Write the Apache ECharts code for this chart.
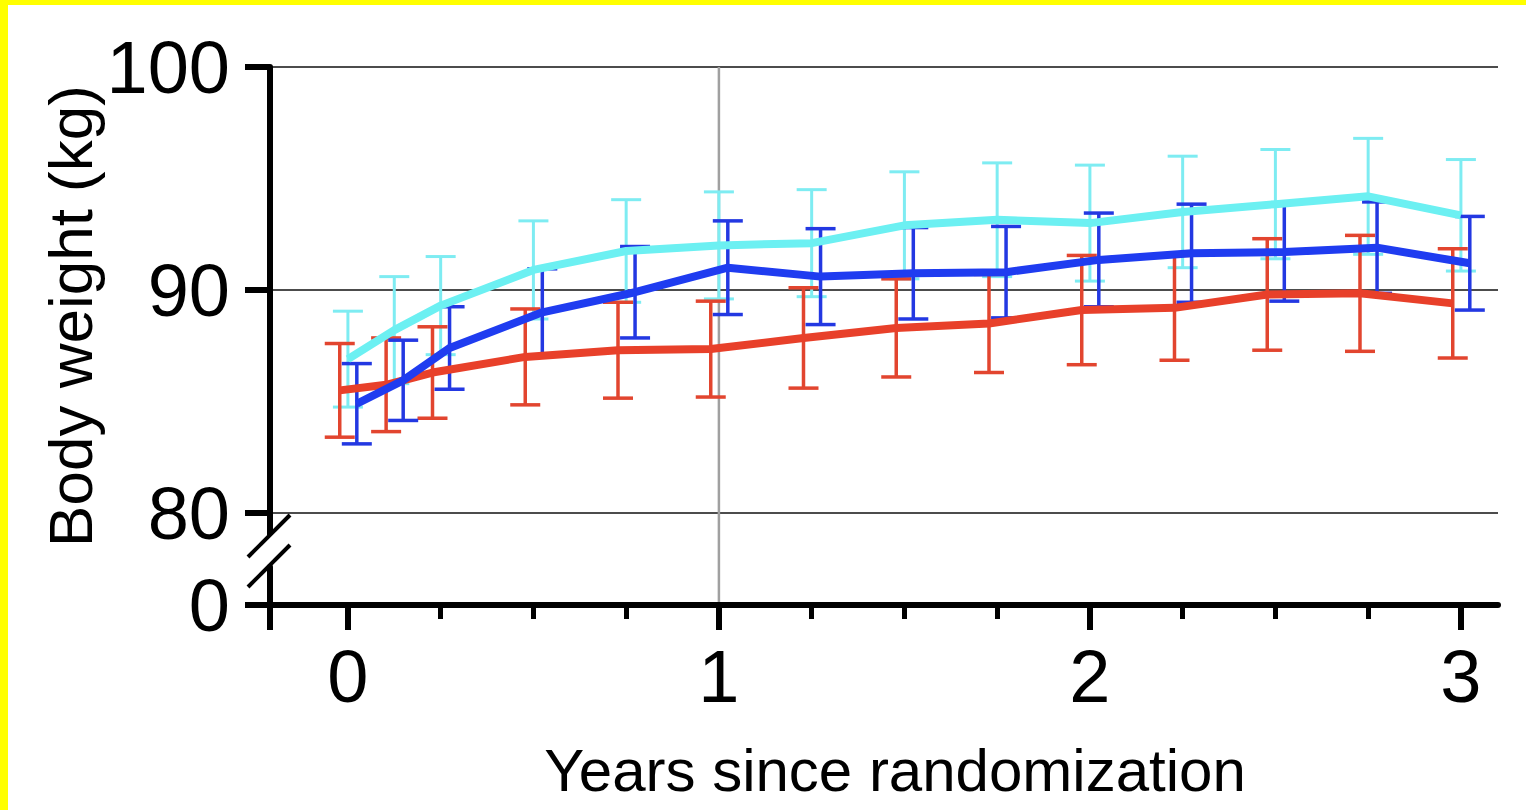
<!DOCTYPE html>
<html>
<head>
<meta charset="utf-8">
<title>Body weight</title>
<script src="https://cdn.jsdelivr.net/npm/echarts@6/dist/echarts.min.js"></script>
<style>
  html, body { margin: 0; padding: 0; background: #fff; overflow: hidden; }
  .edge { position: absolute; left: 0; top: 0; background: #ffff00; }
  .edge.top { width: 100%; height: 5px; }
  .edge.left { width: 8px; height: 100%; }
  #chart { position: absolute; left: 8px; top: 5px; width: 1518px; height: 805px; background: #fff; }
</style>
</head>
<body>
<div class="edge top"></div>
<div class="edge left"></div>
<div id="chart"></div>
<script>
const years = [0, 0.125, 0.25, 0.5, 0.75, 1, 1.25, 1.5, 1.75, 2, 2.25, 2.5, 2.75, 3]
const redMean = [85.5, 85.75, 86.3, 87.0, 87.3, 87.35, 87.85, 88.3, 88.5, 89.1, 89.2, 89.8, 89.85, 89.4]
const redErr = [2.1, 2.1, 2.05, 2.15, 2.15, 2.15, 2.25, 2.2, 2.2, 2.45, 2.35, 2.5, 2.6, 2.45]
const blueMean = [84.9, 85.95, 87.4, 89.0, 89.9, 91.0, 90.6, 90.75, 90.8, 91.35, 91.65, 91.7, 91.9, 91.2]
const blueErr = [1.8, 1.8, 1.85, 1.95, 2.05, 2.1, 2.15, 2.05, 2.05, 2.1, 2.2, 2.2, 2.05, 2.1]
const cyanMean = [86.9, 88.2, 89.3, 90.9, 91.75, 92.0, 92.1, 92.9, 93.15, 93.0, 93.5, 93.85, 94.2, 93.35]
const cyanErr = [2.15, 2.4, 2.2, 2.2, 2.3, 2.4, 2.4, 2.4, 2.55, 2.6, 2.5, 2.45, 2.6, 2.5]
const yTicks = [80, 90, 100]
const xLabels = [0, 1, 2, 3]
const xMinor = [0.25, 0.5, 0.75, 1.25, 1.5, 1.75, 2.25, 2.5, 2.75]

const font = "'Liberation Sans', Arial, sans-serif"
const xMin = -0.21
const xMax = 3.1

// small sideways dodge so the bars of the three groups do not sit on each other
function points(mean, err, dx) {
  return years.map((t, i) => [t + dx, mean[i], err[i]])
}

function errorBars(color, width) {
  return function (params, api) {
    const x = api.value(0)
    const m = api.value(1)
    const e = api.value(2)
    const hi = api.coord([x, m + e])
    const lo = api.coord([x, m - e])
    const half = 15
    const style = { stroke: color, lineWidth: width }
    return {
      type: 'group',
      children: [
        { type: 'line', shape: { x1: hi[0], y1: hi[1], x2: lo[0], y2: lo[1] }, style },
        { type: 'line', shape: { x1: hi[0] - half, y1: hi[1], x2: hi[0] + half, y2: hi[1] }, style },
        { type: 'line', shape: { x1: lo[0] - half, y1: lo[1], x2: lo[0] + half, y2: lo[1] }, style },
      ],
    }
  }
}

function barSeries(mean, err, dx, color, width) {
  return {
    type: 'custom',
    xAxisIndex: 0,
    yAxisIndex: 0,
    data: points(mean, err, dx),
    encode: { x: 0, y: [1, 2] },
    renderItem: errorBars(color, width),
    z: 2,
    silent: true,
  }
}

function lineSeries(mean, dx, color) {
  return {
    type: 'line',
    xAxisIndex: 0,
    yAxisIndex: 0,
    data: years.map((t, i) => [t + dx, mean[i]]),
    symbol: 'none',
    lineStyle: { color: color, width: 8 },
    z: 3,
    silent: true,
  }
}

const chart = echarts.init(document.getElementById('chart'), null, { renderer: 'svg' })

const option = {
  animation: false,
  backgroundColor: '#fff',
  grid: [
    { left: 262, top: 62, width: 1228, height: 446 },
    { left: 262, top: 562, width: 1228, height: 38 },
  ],
  xAxis: [
    { type: 'value', gridIndex: 0, min: xMin, max: xMax, show: false },
    {
      type: 'value',
      gridIndex: 1,
      position: 'bottom',
      min: xMin,
      max: xMax,
      axisLine: { onZero: false, lineStyle: { color: '#000', width: 6 } },
      axisTick: { customValues: [xMin].concat(xLabels), length: 25, lineStyle: { color: '#000', width: 6 } },
      axisLabel: { customValues: xLabels, fontSize: 74, fontFamily: font, color: '#000', margin: 34 },
      splitLine: { show: false },
    },
    {
      type: 'value',
      gridIndex: 1,
      position: 'bottom',
      min: xMin,
      max: xMax,
      axisLine: { show: false },
      axisTick: { customValues: xMinor, length: 14, lineStyle: { color: '#000', width: 5 } },
      axisLabel: { show: false },
      splitLine: { show: false },
    },
  ],
  yAxis: [
    {
      type: 'value',
      gridIndex: 0,
      min: 80,
      max: 100,
      interval: 10,
      axisLine: { show: true, onZero: false, lineStyle: { color: '#000', width: 6 } },
      axisTick: { show: true, length: 25, lineStyle: { color: '#000', width: 6 } },
      axisLabel: { fontSize: 74, fontFamily: font, color: '#000', margin: 40 },
      splitLine: { show: true, lineStyle: { color: '#111', width: 1.5 } },
    },
    {
      type: 'value',
      gridIndex: 1,
      min: 0,
      max: 1,
      axisLine: { show: true, onZero: false, lineStyle: { color: '#000', width: 6 } },
      axisTick: { show: true, customValues: [0], length: 25, lineStyle: { color: '#000', width: 6 } },
      axisLabel: { customValues: [0], fontSize: 74, fontFamily: font, color: '#000', margin: 40 },
      splitLine: { show: false },
    },
  ],
  series: [
    barSeries(cyanMean, cyanErr, 0, '#7eecf2', 3),
    barSeries(redMean, redErr, -0.022, '#e2452f', 3.5),
    barSeries(blueMean, blueErr, 0.024, '#2338e2', 3.5),
    lineSeries(redMean, -0.022, '#e8402a'),
    lineSeries(blueMean, 0.024, '#1f3cf0'),
    lineSeries(cyanMean, 0, '#6cf0f2'),
  ],
}
chart.setOption(option)

// grey line at year 1 crosses both parts of the broken axis
const top1 = chart.convertToPixel({ gridIndex: 0 }, [1, 100])
const bot1 = chart.convertToPixel({ gridIndex: 1 }, [1, 0])
const axisBottom = chart.convertToPixel({ gridIndex: 0 }, [xMin, 80])
const axisTop = chart.convertToPixel({ gridIndex: 1 }, [xMin, 1])
const ax = axisBottom[0]
const slash = { stroke: '#000', lineWidth: 4 }

chart.setOption({
  graphic: [
    {
      type: 'line', z: 1,
      shape: { x1: top1[0], y1: top1[1], x2: bot1[0], y2: bot1[1] - 3 },
      style: { stroke: '#a0a0a0', lineWidth: 2.5 },
    },
    {
      type: 'line', z: 5,
      shape: { x1: ax, y1: axisBottom[1], x2: ax, y2: axisBottom[1] + 22 },
      style: { stroke: '#000', lineWidth: 6 },
    },
    {
      type: 'line', z: 5,
      shape: { x1: ax - 22, y1: axisBottom[1] + 44, x2: ax + 20, y2: axisBottom[1] + 2 },
      style: slash,
    },
    {
      type: 'line', z: 5,
      shape: { x1: ax - 22, y1: axisTop[1] + 20, x2: ax + 20, y2: axisTop[1] - 22 },
      style: slash,
    },
    {
      type: 'text', z: 5,
      x: 62, y: 311, rotation: Math.PI / 2,
      style: {
        text: 'Body weight (kg)', font: '62px ' + font, fill: '#000',
        align: 'center', verticalAlign: 'middle',
      },
    },
    {
      type: 'text', z: 5,
      x: 887, y: 765,
      style: {
        text: 'Years since randomization', font: '60px ' + font, fill: '#000',
        align: 'center', verticalAlign: 'middle',
      },
    },
  ],
})
</script>
</body>
</html>
